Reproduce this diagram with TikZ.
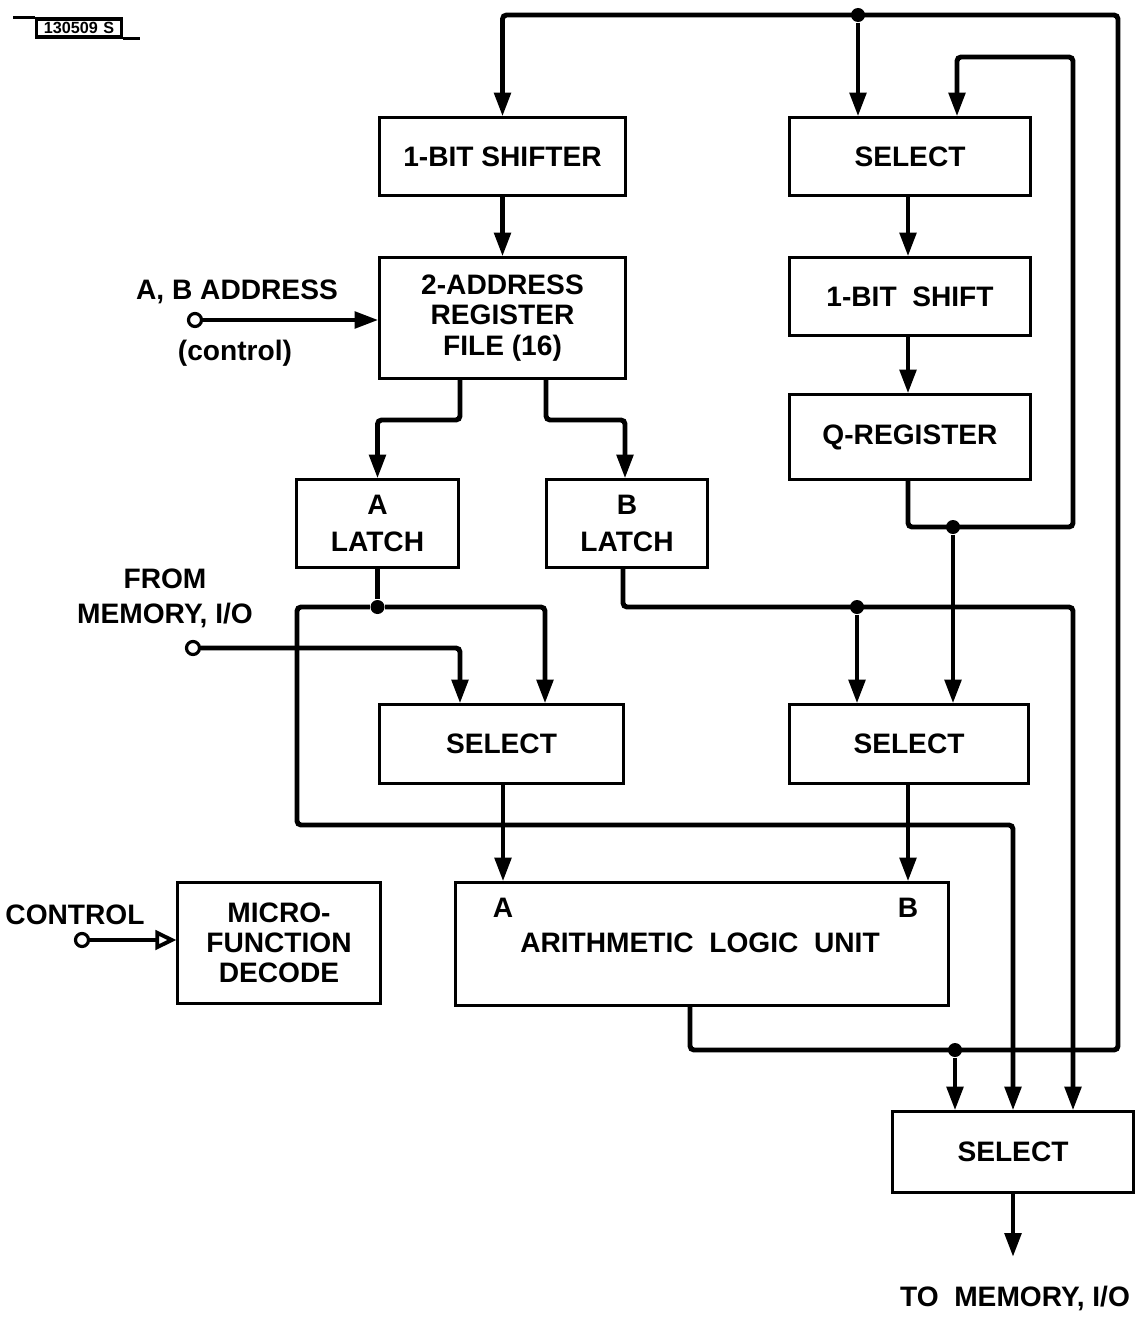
\documentclass[tikz,border=0pt]{standalone}
\usepackage{fontspec}
\setmainfont{Liberation Sans}
\usetikzlibrary{arrows.meta}
\begin{document}
\begin{tikzpicture}[x={(0.01cm,0)},y={(0,-0.01cm)},
  blk/.style={draw,line width=0.85pt,inner sep=0pt,align=center,
    font=\bfseries\fontsize{8}{8.6}\selectfont},
  lbl/.style={inner sep=0pt,align=center,font=\bfseries\fontsize{8}{9}\selectfont},
  wire/.style={line width=1.4pt,rounded corners=0.04cm},
  >={Triangle[length=6.8pt,width=4.6pt]},
  dot/.style={circle,fill=black,inner sep=0pt,minimum size=0.14cm},
  term/.style={circle,draw,fill=white,line width=0.9pt,inner sep=0pt,minimum size=0.13cm}]
\useasboundingbox (0,0) rectangle (1141,1318);

% tag
\node[draw,line width=0.9pt,inner sep=0pt,minimum width=0.85cm,minimum height=0.18cm,
  font=\bfseries\fontsize{4.6}{4.6}\selectfont] (tag) at (79,28) {130509\,\,S};
\draw[line width=0.9pt] (tag.north west) -- ++(-22,0);
\draw[line width=0.9pt] (tag.south east) -- ++(17,0);

% blocks
\node[blk,minimum width=2.45cm,minimum height=0.77cm] (shifter) at (502.5,156.5) {1-BIT\ SHIFTER};
\node[blk,minimum width=2.40cm,minimum height=0.77cm] (selT) at (910,156.5) {SELECT};
\node[blk,minimum width=2.45cm,minimum height=1.20cm] (regf) at (502.5,318) {2-ADDRESS\\REGISTER\\FILE (16)};
\node[blk,minimum width=2.40cm,minimum height=0.77cm] (shift1) at (910,296.5) {1-BIT\ \ SHIFT};
\node[blk,minimum width=2.40cm,minimum height=0.84cm] (qreg) at (910,437) {Q-REGISTER};
\node[blk,minimum width=1.61cm,minimum height=0.87cm] (alatch) at (377.5,523.5) {A\\[2pt]LATCH};
\node[blk,minimum width=1.60cm,minimum height=0.87cm] (blatch) at (627,523.5) {B\\[2pt]LATCH};
\node[blk,minimum width=2.43cm,minimum height=0.78cm] (selL) at (501.5,744) {SELECT};
\node[blk,minimum width=2.38cm,minimum height=0.78cm] (selR) at (909,744) {SELECT};
\node[blk,minimum width=4.92cm,minimum height=1.22cm] (alu) at (702,944) {};
\node[lbl] (aluT) at (700,943) {ARITHMETIC\ \ LOGIC\ \ UNIT};
\node[lbl] (aluA) at (503,908) {A};
\node[lbl] (aluB) at (908,908) {B};
\node[blk,minimum width=2.02cm,minimum height=1.20cm] (mfd) at (279,943) {MICRO-\\FUNCTION\\DECODE};
\node[blk,minimum width=2.40cm,minimum height=0.80cm] (selB) at (1013,1152) {SELECT};

% terminals and labels
\node[term] (cAB) at (195,320) {};
\node[lbl] (lAB) at (237,292) {A, B ADDRESS};
\node[lbl] (lctl) at (235,353) {(control)};
\node[term] (cFM) at (193,648) {};
\node[lbl] (lFM) at (165,598) {FROM\\[1pt]MEMORY, I/O};
\node[term] (cC) at (82,940) {};
\node[lbl] (lC) at (75,915) {CONTROL};
\node[lbl] (lTo) at (1015,1298) {TO\ \ MEMORY, I/O};
\coordinate (outEnd) at (1013,1257);

% junction dots
\node[dot] (jT) at (858,15) {};
\node[dot] (jB) at (955,1050) {};
\node[dot] (jQ) at (953,527) {};
\node[dot] (jBL) at (857,607) {};
\node[dot] (jA) at (377.5,607) {};

% ALU output bus
\draw[wire,->] (alu.south -| 690,0) |- (1118,1050) -- (1118,15) -| (shifter.north);
\draw[wire,->] (jT) -- (jT |- selT.north);
\draw[wire,->] (jB) -- (jB |- selB.north);

% Q-register loop
\draw[wire,->] (qreg.south -| 908,0) |- (1073,527) -- (1073,57) -| (selT.north -| 957,0);
\draw[wire,->] (jQ) -- (jQ |- selR.north);

% B latch
\draw[wire,->] (blatch.south -| 623,0) |- (1073,607) -- (selB.north -| 1073,0);
\draw[wire,->] (jBL) -- (jBL |- selR.north);

% A latch
\draw[wire] (alatch.south) -- (jA);
\draw[wire,->] (jA) -| (selL.north -| 545,0);
\draw[wire,->] (jA) -| (297,825) -| (selB.north);

% from memory
\draw[wire,->] (cFM) -| (selL.north -| 460,0);

% selects to ALU
\draw[wire,->] (selL.south -| 503,0) -- (alu.north -| 503,0);
\draw[wire,->] (selR.south -| 908,0) -- (alu.north -| 908,0);

% upper chain
\draw[wire,->] (shifter.south) -- (regf.north);
\draw[wire,->] (selT.south -| 908,0) -- (shift1.north -| 908,0);
\draw[wire,->] (shift1.south -| 908,0) -- (qreg.north -| 908,0);
\draw[wire,->] (cAB) -- (cAB -| regf.west);
\draw[wire,->] (regf.south -| 460,0) -- (460,420) -| (alatch.north);
\draw[wire,->] (regf.south -| 546,0) -- (546,420) -| (blatch.north -| 625,0);

% control
\draw[line width=1.1pt,-{Triangle[open,length=6pt,width=5.5pt]}] (cC) -- (cC -| mfd.west);

% output
\draw[wire,->] (selB.south) -- (outEnd);
\end{tikzpicture}
\end{document}
